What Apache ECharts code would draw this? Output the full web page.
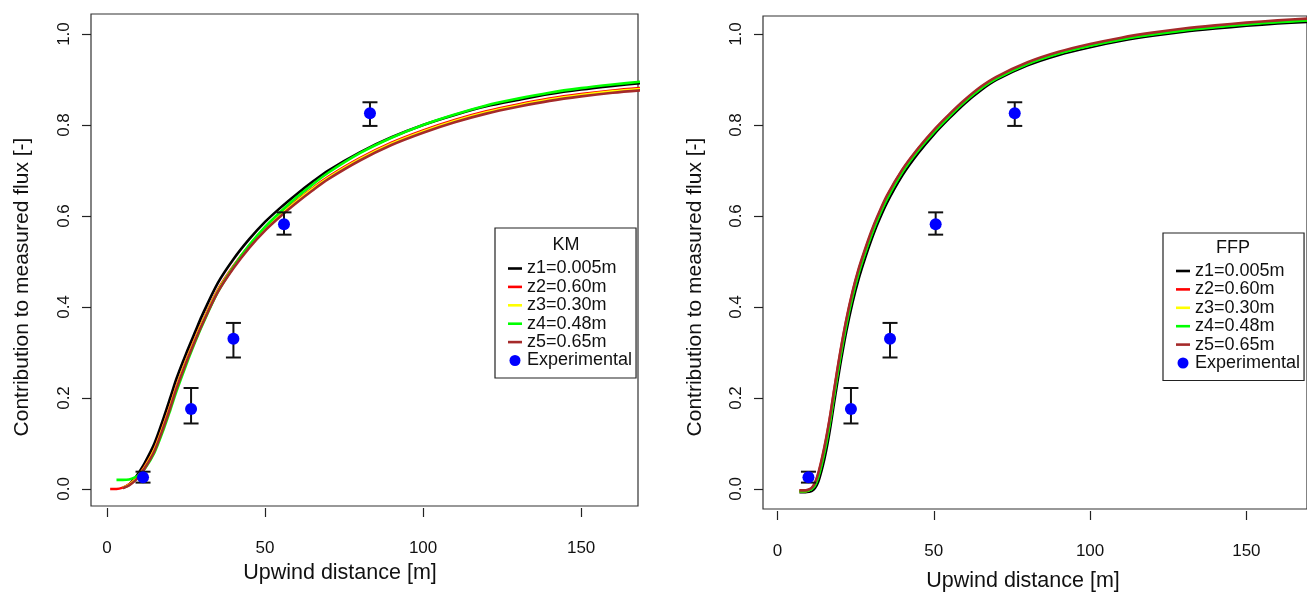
<!DOCTYPE html>
<html><head><meta charset="utf-8">
<script src="https://cdn.jsdelivr.net/npm/echarts@6/dist/echarts.min.js"></script>
<style>html,body{margin:0;padding:0;background:#fff}#c{width:1307px;height:593px}</style>
</head><body><div id="c"></div><script>
// ---- data ----
const seriesNames = ['z1=0.005m', 'z2=0.60m', 'z3=0.30m', 'z4=0.48m', 'z5=0.65m'];
const seriesColors = ['#000000', '#ff0000', '#ffff00', '#00ff00', '#a52a2a'];
const xTicks = [0, 50, 100, 150];
const yTicks = [0, 0.2, 0.4, 0.6, 0.8, 1.0];

// KM panel (left)
const kmX = [1, 3, 5, 7, 9, 10, 12, 15, 18, 20, 22, 25, 28, 30, 35, 40, 45, 50, 55, 60, 65, 70, 80, 90, 100, 110, 120, 130, 140, 150, 160, 170];
const kmZ1 = [null, null, 0.002, 0.01, 0.025, 0.035, 0.058, 0.10, 0.158, 0.20, 0.243, 0.297, 0.347, 0.38, 0.452, 0.505, 0.549, 0.587, 0.619, 0.648, 0.675, 0.70, 0.74, 0.773, 0.80, 0.822, 0.841, 0.855, 0.868, 0.878, 0.886, 0.893];
const kmZ2 = [0.0, 0.0, 0.003, 0.01, 0.022, 0.03, 0.05, 0.088, 0.143, 0.183, 0.226, 0.282, 0.333, 0.365, 0.437, 0.49, 0.535, 0.573, 0.605, 0.634, 0.661, 0.686, 0.727, 0.761, 0.788, 0.811, 0.83, 0.845, 0.858, 0.868, 0.876, 0.882];
const kmZ3 = [null, null, 0.003, 0.009, 0.021, 0.029, 0.048, 0.086, 0.141, 0.181, 0.224, 0.28, 0.331, 0.363, 0.435, 0.488, 0.533, 0.571, 0.603, 0.632, 0.659, 0.684, 0.725, 0.759, 0.786, 0.809, 0.828, 0.843, 0.856, 0.866, 0.874, 0.88];
const kmZ4 = [null, 0.02, 0.02, 0.021, 0.026, 0.03, 0.045, 0.08, 0.133, 0.173, 0.215, 0.272, 0.325, 0.358, 0.432, 0.488, 0.536, 0.576, 0.61, 0.641, 0.669, 0.695, 0.738, 0.772, 0.80, 0.823, 0.843, 0.858, 0.871, 0.881, 0.889, 0.896];
const kmZ5 = [null, null, 0.002, 0.008, 0.019, 0.027, 0.046, 0.083, 0.138, 0.178, 0.221, 0.277, 0.328, 0.36, 0.432, 0.485, 0.53, 0.568, 0.6, 0.629, 0.656, 0.681, 0.722, 0.756, 0.783, 0.806, 0.825, 0.84, 0.853, 0.863, 0.871, 0.877];
const kmExpX = [11.4, 26.6, 40.0, 56.0, 83.2];

// FFP panel (right)
const ffpX = [7, 9, 10, 11, 12, 13, 14, 15, 16, 17, 18, 20, 22, 24, 26, 28, 30, 32, 35, 40, 45, 50, 55, 60, 65, 70, 80, 90, 100, 110, 120, 130, 140, 150, 160, 170];
const ffpZ1 = [-0.007, -0.007, -0.006, -0.004, 0.002, 0.015, 0.038, 0.066, 0.1, 0.14, 0.185, 0.27, 0.346, 0.41, 0.463, 0.507, 0.547, 0.583, 0.629, 0.69, 0.738, 0.779, 0.815, 0.848, 0.876, 0.899, 0.931, 0.954, 0.971, 0.985, 0.996, 1.005, 1.012, 1.018, 1.023, 1.027];
const ffpZ2 = [-0.004, -0.004, -0.002, 0.002, 0.012, 0.031, 0.058, 0.089, 0.125, 0.165, 0.21, 0.295, 0.369, 0.431, 0.482, 0.524, 0.563, 0.597, 0.642, 0.701, 0.747, 0.787, 0.822, 0.854, 0.882, 0.904, 0.936, 0.959, 0.976, 0.99, 1.001, 1.01, 1.017, 1.023, 1.028, 1.032];
const ffpZ3 = [-0.005, -0.005, -0.003, 0.001, 0.01, 0.028, 0.054, 0.085, 0.12, 0.16, 0.205, 0.29, 0.365, 0.427, 0.479, 0.521, 0.56, 0.595, 0.64, 0.699, 0.746, 0.786, 0.821, 0.853, 0.881, 0.903, 0.935, 0.958, 0.975, 0.989, 1.0, 1.009, 1.016, 1.022, 1.027, 1.031];
const ffpZ4 = [-0.005, -0.005, -0.003, 0.0, 0.008, 0.025, 0.05, 0.08, 0.115, 0.155, 0.2, 0.285, 0.36, 0.423, 0.475, 0.518, 0.557, 0.592, 0.637, 0.697, 0.744, 0.784, 0.819, 0.852, 0.88, 0.902, 0.934, 0.957, 0.974, 0.988, 0.999, 1.008, 1.015, 1.021, 1.026, 1.03];
const ffpZ5 = [-0.003, -0.003, -0.001, 0.003, 0.014, 0.034, 0.061, 0.092, 0.128, 0.168, 0.213, 0.298, 0.372, 0.434, 0.485, 0.527, 0.566, 0.6, 0.645, 0.703, 0.749, 0.789, 0.824, 0.856, 0.884, 0.906, 0.938, 0.961, 0.978, 0.992, 1.003, 1.012, 1.019, 1.025, 1.03, 1.034];
const ffpExpX = [9.9, 23.5, 36.0, 50.6, 75.9];

// experimental values (both panels)
const expY = [0.026, 0.176, 0.330, 0.582, 0.826];
const expLow = [0.014, 0.144, 0.289, 0.559, 0.798];
const expHigh = [0.038, 0.222, 0.365, 0.608, 0.850];

// ---- chart ----
const FONT = '"Liberation Sans", Arial, Helvetica, sans-serif';
const TXT = '#111';
const chart = echarts.init(document.getElementById('c'));

function pairs(xs, ys) {
  const out = [];
  xs.forEach((x, i) => { if (ys[i] !== null) out.push([x, ys[i]]); });
  return out;
}

function xAxisCfg(gi, min, max) {
  return {
    gridIndex: gi, type: 'value', min: min, max: max, offset: 2,
    axisLine: { show: false, onZero: false },
    splitLine: { show: false },
    axisTick: { show: true, length: 9, customValues: xTicks, lineStyle: { color: '#222', width: 1.2 } },
    axisLabel: { customValues: xTicks, margin: 32, fontSize: 17, fontFamily: FONT, color: TXT,
      formatter: v => String(Math.round(v)) }
  };
}
function yAxisCfg(gi, min, max) {
  return {
    gridIndex: gi, type: 'value', min: min, max: max,
    axisLine: { show: false, onZero: false },
    splitLine: { show: false },
    axisTick: { show: true, length: 9, customValues: yTicks, lineStyle: { color: '#222', width: 1.2 } },
    axisLabel: { customValues: yTicks, rotate: 90, margin: 18, fontSize: 17, fontFamily: FONT, color: TXT,
      formatter: v => v.toFixed(1) }
  };
}

const series = [];
const panels = [
  { xs: kmX, ys: [kmZ1, kmZ2, kmZ3, kmZ4, kmZ5], ex: kmExpX },
  { xs: ffpX, ys: [ffpZ1, ffpZ2, ffpZ3, ffpZ4, ffpZ5], ex: ffpExpX }
];
panels.forEach((p, gi) => {
  p.ys.forEach((ys, k) => {
    series.push({
      type: 'line', name: seriesNames[k], xAxisIndex: gi, yAxisIndex: gi,
      data: pairs(p.xs, ys), showSymbol: false, symbol: 'none',
      smooth: 0.3,
      lineStyle: { color: seriesColors[k], width: 2.6 }, itemStyle: { color: seriesColors[k] },
      z: 2 + k, silent: true
    });
  });
  series.push({
    type: 'custom', name: 'errbar' + gi, xAxisIndex: gi, yAxisIndex: gi, z: 10,
    data: p.ex.map((x, i) => [x, expLow[i], expHigh[i]]),
    encode: { x: 0, y: [1, 2] },
    renderItem: function (params, api) {
      const x = api.value(0);
      const a = api.coord([x, api.value(1)]);
      const b = api.coord([x, api.value(2)]);
      const w = 7.5;
      const st = { stroke: '#111', lineWidth: 2 };
      return { type: 'group', children: [
        { type: 'line', shape: { x1: a[0], y1: a[1], x2: b[0], y2: b[1] }, style: st },
        { type: 'line', shape: { x1: a[0] - w, y1: a[1], x2: a[0] + w, y2: a[1] }, style: st },
        { type: 'line', shape: { x1: b[0] - w, y1: b[1], x2: b[0] + w, y2: b[1] }, style: st }
      ] };
    }
  });
  series.push({
    type: 'scatter', name: 'Experimental', xAxisIndex: gi, yAxisIndex: gi, z: 11,
    data: p.ex.map((x, i) => [x, expY[i]]), symbol: 'circle', symbolSize: 12,
    itemStyle: { color: '#0000ff', opacity: 1 }
  });
});

const LINE_ICON = 'path://M0,0 M0,4.2 L14,4.2 L14,6.8 L0,6.8 Z M14,11';
function legendCfg(left, top, padTop) {
  return {
    left: left, top: top, orient: 'vertical', selectedMode: false,
    padding: [padTop, 4, 8.5, 13], itemWidth: 14, itemHeight: 11, itemGap: 0.4,
    borderColor: '#222', borderWidth: 1.2, backgroundColor: '#fff', borderRadius: 0,
    textStyle: { fontSize: 18, fontFamily: FONT, color: TXT },
    data: seriesNames.map(n => ({ name: n, icon: LINE_ICON })).concat([{ name: 'Experimental', icon: 'circle', itemStyle: { color: '#0000ff', opacity: 1 } }])
  };
}

const option = {
  animation: false,
  backgroundColor: '#fff',
  grid: [
    { left: 91, top: 14, width: 547, height: 492, show: true, borderColor: '#333', borderWidth: 1.2, backgroundColor: 'transparent' },
    { left: 763, top: 16, width: 600, height: 493, show: true, borderColor: '#333', borderWidth: 1.2, backgroundColor: 'transparent' }
  ],
  xAxis: [ xAxisCfg(0, -5.06, 168.0), xAxisCfg(1, -4.64, 169.4) ],
  yAxis: [ yAxisCfg(0, -0.0374, 1.044), yAxisCfg(1, -0.044, 1.0396) ],
  legend: [ legendCfg(495, 228, 31.5), legendCfg(1163, 233, 29) ],
  series: series,
  graphic: [
    { type: 'text', x: 22, y: 287, rotation: Math.PI / 2, z: 100,
      style: { text: 'Contribution to measured flux [-]', font: '21px ' + FONT, fill: TXT, textAlign: 'center', textVerticalAlign: 'middle' } },
    { type: 'text', x: 695, y: 287, rotation: Math.PI / 2, z: 100,
      style: { text: 'Contribution to measured flux [-]', font: '21px ' + FONT, fill: TXT, textAlign: 'center', textVerticalAlign: 'middle' } },
    { type: 'text', x: 340, y: 573, z: 100,
      style: { text: 'Upwind distance [m]', font: '21.5px ' + FONT, fill: TXT, textAlign: 'center', textVerticalAlign: 'middle' } },
    { type: 'text', x: 1023, y: 581, z: 100,
      style: { text: 'Upwind distance [m]', font: '21.5px ' + FONT, fill: TXT, textAlign: 'center', textVerticalAlign: 'middle' } },
    { type: 'text', x: 566, y: 245, z: 100,
      style: { text: 'KM', font: '18px ' + FONT, fill: TXT, textAlign: 'center', textVerticalAlign: 'middle' } },
    { type: 'text', x: 1233, y: 248, z: 100,
      style: { text: 'FFP', font: '18px ' + FONT, fill: TXT, textAlign: 'center', textVerticalAlign: 'middle' } }
  ]
};
chart.setOption(option);
</script></body></html>
